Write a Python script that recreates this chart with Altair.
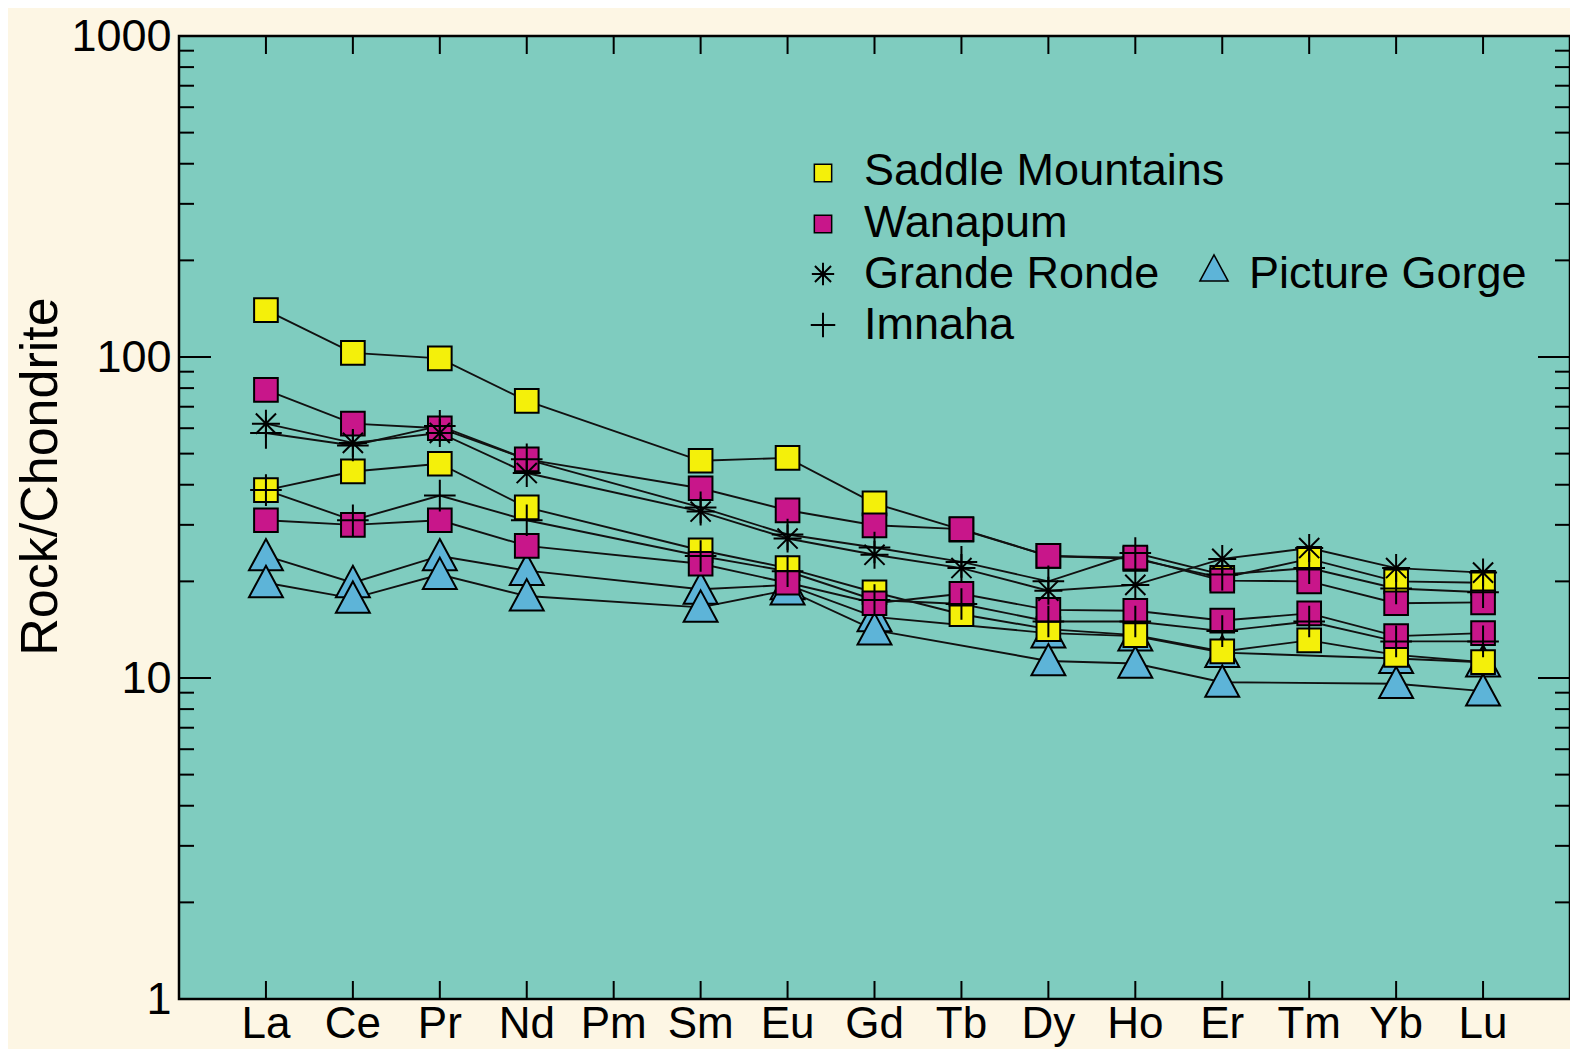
import altair as alt
import pandas as pd

# ---------------- data ----------------
elements = ["La", "Ce", "Pr", "Nd", "Pm", "Sm", "Eu", "Gd", "Tb",
            "Dy", "Ho", "Er", "Tm", "Yb", "Lu"]

saddle_1 = [140, 103, 99, 73, None, 47.5, 48.5, 35, 29, 24, 23.5, 20.5, 23.5, 20, 19.8]
saddle_2 = [38.5, 44, 46.5, 34, None, 25, 22, 18.5, 15.8, 14.2, 13.6, 12.1, 13.1, 11.8, 11.2]
wanapum_1 = [79, 62, 60, 48, None, 39, 33.3, 29.9, 29.1, 24, 23.7, 20.1, 20, 17.1, 17.2]
wanapum_2 = [31, 30, 31, 25.8, None, 22.7, 19.8, 17.1, 18.3, 16.3, 16.2, 15.1, 15.9, 13.5, 13.8]
grande_1 = [62, 54, 58, 43.5, None, 33, 27.2, 24.2, 22, 18.7, 19.5, 23.5, 25.4, 22, 21.3]
imnaha_1 = [58, 53, 61, 48, None, 34, 28, 25.5, 23, 20, 24.5, 21, 22, 19, 18.5]
imnaha_2 = [38.5, 31, 37, 31, None, 24, 21.5, 17.5, 17, 15, 15, 14, 15, 13, 13]
picture_1 = [24, 19.8, 24, 21.6, None, 18.9, 19.5, 15.5, None, 13.8, 13.5, 12, None, 11.5, 11.2]
picture_2 = [19.8, 17.7, 21, 18, None, 16.6, 18.8, 14.1, None, 11.3, 11.1, 9.7, None, 9.6, 9.1]

samples = [
    ("SM-1", "Saddle Mountains", saddle_1),
    ("SM-2", "Saddle Mountains", saddle_2),
    ("W-1", "Wanapum", wanapum_1),
    ("W-2", "Wanapum", wanapum_2),
    ("GR-1", "Grande Ronde", grande_1),
    ("IM-1", "Imnaha", imnaha_1),
    ("IM-2", "Imnaha", imnaha_2),
    ("PG-1", "Picture Gorge", picture_1),
    ("PG-2", "Picture Gorge", picture_2),
]

y_major = [1, 10, 100, 1000]
y_minor = [2, 3, 4, 5, 6, 7, 8, 9, 20, 30, 40, 50, 60, 70, 80, 90,
           200, 300, 400, 500, 600, 700, 800, 900]

legend_labels = ["Saddle Mountains", "Wanapum", "Grande Ronde", "Imnaha", "Picture Gorge"]

rows = []
for sid, grp, vals in samples:
    for i, (el, v) in enumerate(zip(elements, vals)):
        if v is not None:
            rows.append({"sample": sid, "group": grp, "el": el, "idx": i, "v": v})
df = pd.DataFrame(rows)

# ---------------- styling ----------------
FONT = "Liberation Sans"
W, H = 1391, 963
TEAL = "#7fccbf"
CREAM = "#fdf6e4"
YELLOW = "#f4f00a"
MAGENTA = "#c8168a"
BLUE = "#5db4d8"

ASTERISK = "M0,-1L0,1M-1,0L1,0M-0.72,-0.72L0.72,0.72M-0.72,0.72L0.72,-0.72"
PLUS = "M0,-1L0,1M-1,0L1,0"
TRIANGLE = "M0,-1L1,0.85L-1,0.85Z"

xscale = alt.Scale(domain=elements, padding=1)
yscale = alt.Scale(type="log", domain=[1, 1000])

x_axis = alt.Axis(labelAngle=0, labelFontSize=44, labelFont=FONT, labelColor="black",
                  labelPadding=3, ticks=False, tickSize=0, domain=False, grid=False,
                  title="")
y_axis = alt.Axis(values=y_major, format="d", labelFontSize=45, labelFont=FONT,
                  labelColor="black", labelPadding=8, ticks=False, tickSize=0,
                  domain=False, grid=False, title="Rock/Chondrite",
                  titleFontSize=52, titleFont=FONT, titleFontWeight="normal",
                  titleColor="black", titleX=-139, titleY=440, titleAngle=-90,
                  titleAlign="center", titleBaseline="middle")

X = alt.X("el:N", scale=xscale, sort=elements, axis=x_axis)
Y = alt.Y("v:Q", scale=yscale, axis=y_axis)

base = alt.Chart(df)

lines = base.mark_line(color="#111111", strokeWidth=1.9).encode(
    x=X, y=Y, detail="sample:N", order="idx:Q")


def pts(group, **mark):
    return base.transform_filter(alt.datum.group == group).mark_point(
        opacity=1, **mark).encode(x=X, y=Y)


p_pg = pts("Picture Gorge", shape=TRIANGLE, size=1150, fill=BLUE, stroke="black", strokeWidth=2)
p_sm = pts("Saddle Mountains", shape="square", size=560, fill=YELLOW, stroke="black", strokeWidth=2)
p_wa = pts("Wanapum", shape="square", size=560, fill=MAGENTA, stroke="black", strokeWidth=2)
p_gr = pts("Grande Ronde", shape=ASTERISK, size=784, color="black", strokeWidth=2)
p_im = pts("Imnaha", shape=PLUS, size=1000, color="black", strokeWidth=2)

# ---------------- inward frame ticks ----------------
dmaj = pd.DataFrame({"v": y_major})
dmin = pd.DataFrame({"v": y_minor})
dx = pd.DataFrame({"el": elements})


def yticks(d, length):
    left = alt.Chart(d).mark_rule(color="black", strokeWidth=2).encode(
        y=Y, x=alt.value(0), x2=alt.value(length))
    right = alt.Chart(d).mark_rule(color="black", strokeWidth=2).encode(
        y=Y, x=alt.value(W), x2=alt.value(W - length))
    return left + right


xt_bottom = alt.Chart(dx).mark_rule(color="black", strokeWidth=2).encode(
    x=X, y=alt.value(H), y2=alt.value(H - 18))
xt_top = alt.Chart(dx).mark_rule(color="black", strokeWidth=2).encode(
    x=X, y=alt.value(0), y2=alt.value(18))

ticks = yticks(dmaj, 32) + yticks(dmin, 15) + xt_bottom + xt_top

# ---------------- legend ----------------
one = pd.DataFrame({"k": [0]})


def leg_sym(px, py, **mark):
    return alt.Chart(one).mark_point(opacity=1, **mark).encode(
        x=alt.value(px), y=alt.value(py))


def leg_text(label, px, py):
    return alt.Chart(pd.DataFrame({"label": [label]})).mark_text(
        align="left", baseline="alphabetic", fontSize=45, font=FONT, color="black"
    ).encode(x=alt.value(px), y=alt.value(py), text="label:N")


legend = (
    leg_sym(644, 137, shape="square", size=300, fill=YELLOW, stroke="black", strokeWidth=1.5)
    + leg_sym(644, 188, shape="square", size=300, fill=MAGENTA, stroke="black", strokeWidth=1.5)
    + leg_sym(644, 238, shape=ASTERISK, size=500, color="black", strokeWidth=2)
    + leg_sym(644, 289, shape=PLUS, size=600, color="black", strokeWidth=2)
    + leg_sym(1035, 233, shape=TRIANGLE, size=800, fill=BLUE, stroke="black", strokeWidth=1.5)
    + leg_text(legend_labels[0], 685, 149)
    + leg_text(legend_labels[1], 685, 201)
    + leg_text(legend_labels[2], 685, 252)
    + leg_text(legend_labels[3], 685, 303)
    + leg_text(legend_labels[4], 1070, 252)
)

chart = alt.layer(lines, ticks, p_pg, p_sm, p_wa, p_gr, p_im, legend).properties(
    width=W, height=H,
    autosize=alt.AutoSizeParams(type="none"),
    padding={"left": 171, "top": 28, "right": 0, "bottom": 50},
    background=CREAM,
).configure_view(fill=TEAL, stroke="black", strokeWidth=2.5)

chart.save("out.html", embed_options={"renderer": "svg", "actions": False})
